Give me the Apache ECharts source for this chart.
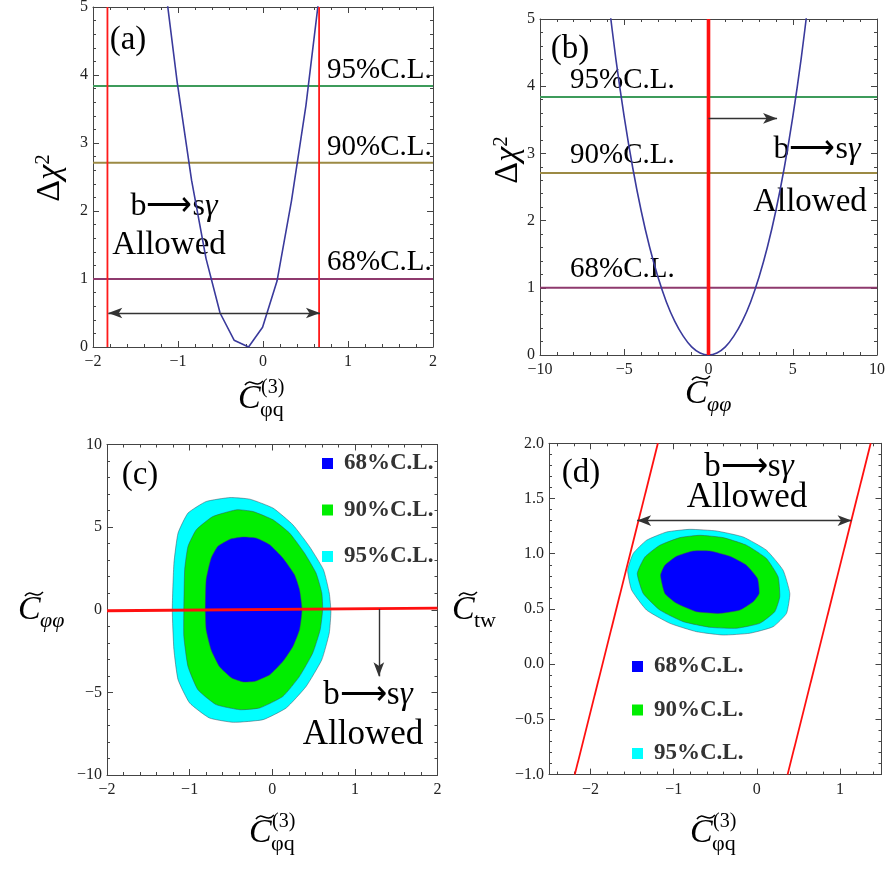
<!DOCTYPE html>
<html><head><meta charset="utf-8">
<script src="https://cdn.jsdelivr.net/npm/echarts@6/dist/echarts.min.js"></script>
<style>html,body{margin:0;padding:0;background:#fff}#c{width:888px;height:869px}</style>
</head><body><div id="c"></div>
<script>
// ---------------- data ----------------
const clLevels = [1.0, 2.71, 3.84];
const clNames = ['68%C.L.', '90%C.L.', '95%C.L.'];
const clColors = ['#8e3a6e', '#9c8a44', '#3d9b5b'];

// panel (a): Δχ² vs C_φq^(3)
const chiA_x = [-1.18, -1.01, -0.84, -0.67, -0.505, -0.34, -0.17, -0.005, 0.165, 0.335, 0.505, 0.675];
const chiA_y = [5.6, 3.9, 2.45, 1.3, 0.5, 0.1, 0.0, 0.29, 0.97, 2.15, 3.55, 5.31];
const boundA = [-1.83, 0.66];
const arrowA = [[-1.82, 0.5], [0.67, 0.5]];

// panel (b): Δχ² vs C_φφ
const chiB_x = [-6, -5.5, -5, -4.5, -4, -3.5, -3, -2.5, -2, -1.5, -1, -0.5, 0, 0.5, 1, 1.5, 2, 2.5, 3, 3.5, 4, 4.5, 5, 5.5, 6];
const chiB_y = [5.42, 4.41, 3.54, 2.79, 2.15, 1.61, 1.16, 0.79, 0.50, 0.28, 0.12, 0.03, 0, 0.03, 0.12, 0.28, 0.50, 0.79, 1.16, 1.61, 2.15, 2.79, 3.54, 4.41, 5.42];
const boundB = 0;
const arrowB = [[0, 3.52], [4.07, 3.52]];

// panel (c): C_φφ vs C_φq^(3) contours
const contC95 = [[-0.51, 6.79], [-0.27, 6.69], [0.01, 6.15], [0.25, 5.14], [0.45, 3.83], [0.62, 2.42], [0.69, 1.01], [0.71, -0.1], [0.69, -1.41], [0.60, -3.02], [0.41, -4.64], [0.17, -5.94], [-0.11, -6.65], [-0.47, -6.81], [-0.76, -6.55], [-1.0, -5.64], [-1.14, -4.23], [-1.19, -2.42], [-1.21, 0], [-1.19, 2.82], [-1.14, 4.64], [-1.02, 5.85], [-0.80, 6.55]];
const contC90 = [[-0.43, 6.05], [-0.23, 5.94], [0.01, 5.44], [0.21, 4.64], [0.39, 3.43], [0.53, 2.22], [0.60, 1.01], [0.61, 0], [0.58, -1.21], [0.49, -2.62], [0.33, -4.03], [0.13, -5.24], [-0.15, -5.94], [-0.39, -6.05], [-0.68, -5.74], [-0.90, -4.84], [-1.02, -3.43], [-1.07, -1.61], [-1.07, 0], [-1.06, 2.42], [-1.02, 3.83], [-0.92, 4.84], [-0.72, 5.64]];
const contC68 = [[-0.354, 4.40], [-0.19, 4.33], [-0.03, 3.93], [0.13, 3.12], [0.27, 2.12], [0.33, 1.21], [0.36, 0], [0.33, -1.21], [0.25, -2.22], [0.13, -3.12], [-0.03, -3.93], [-0.21, -4.33], [-0.35, -4.37], [-0.49, -4.13], [-0.64, -3.43], [-0.74, -2.42], [-0.80, -1.21], [-0.81, 0], [-0.80, 1.81], [-0.74, 3.12], [-0.66, 3.83], [-0.51, 4.27]];
const boundC = [[-2, -0.06], [2, 0.1]];
const arrowC = [[1.29, 0.05], [1.29, -4.03]];

// panel (d): C_tw vs C_φq^(3) contours
const contD95 = [[-1.554, 0.851], [-1.487, 1.002], [-1.326, 1.122], [-1.085, 1.197], [-0.805, 1.221], [-0.485, 1.206], [-0.165, 1.152], [0.116, 1.032], [0.316, 0.851], [0.397, 0.641], [0.357, 0.46], [0.196, 0.339], [-0.084, 0.28], [-0.405, 0.264], [-0.725, 0.294], [-1.046, 0.37], [-1.326, 0.49], [-1.506, 0.671]];
const contD90 = [[-1.438, 0.821], [-1.346, 0.971], [-1.166, 1.077], [-0.925, 1.146], [-0.685, 1.167], [-0.405, 1.146], [-0.124, 1.077], [0.116, 0.957], [0.256, 0.791], [0.276, 0.61], [0.216, 0.475], [0.036, 0.37], [-0.244, 0.325], [-0.565, 0.334], [-0.886, 0.385], [-1.166, 0.49], [-1.367, 0.641]];
const contD68 = [[-1.158, 0.806], [-1.106, 0.896], [-0.965, 0.977], [-0.765, 1.025], [-0.565, 1.025], [-0.325, 0.977], [-0.124, 0.896], [0.008, 0.776], [0.028, 0.641], [-0.044, 0.565], [-0.204, 0.49], [-0.445, 0.46], [-0.725, 0.475], [-0.965, 0.551], [-1.106, 0.641]];
const boundDLeft = [[-2.19, -1], [-1.19, 2]];
const boundDRight = [[0.37, -1], [1.37, 2]];
const arrowD = [[-1.44, 1.30], [1.14, 1.30]];

// tick labels
const ticksA_x = [-2, -1, 0, 1, 2], ticksA_y = [0, 1, 2, 3, 4, 5];
const ticksB_x = [-10, -5, 0, 5, 10], ticksB_y = [0, 1, 2, 3, 4, 5];
const ticksC_x = [-2, -1, 0, 1, 2], ticksC_y = [-10, -5, 0, 5, 10];
const ticksD_x = [-2, -1, 0, 1], ticksD_y = [-1.0, -0.5, 0.0, 0.5, 1.0, 1.5, 2.0];

const contourFill = ['#0000ff', '#00ee00', '#00ffff'];

// ---------------- layout ----------------
const FONT = '"Liberation Serif", "Times New Roman", serif';
const grids = [
  { left: 93, top: 7, width: 340, height: 340 },
  { left: 540, top: 19, width: 337, height: 336 },
  { left: 107, top: 444.5, width: 330.5, height: 330.5 },
  { left: 549, top: 443.3, width: 332.5, height: 331.3 }
];
const axisColor = '#444';

function minorVals(min, max, step, majors) {
  const out = [];
  const start = Math.ceil(min / step - 1e-9) * step;
  for (let v = start; v <= max + 1e-9; v += step) {
    const r = +v.toFixed(6);
    if (!majors.some(m => Math.abs(m - r) < 1e-6)) out.push(r);
  }
  return out;
}
const fmtInt = v => '{t|' + String(+(+v).toFixed(3)).replace('-', '\u2212') + '}';
const fmt1 = v => '{t|' + (+v).toFixed(1).replace('-', '\u2212') + '}';
const tickRich = { t: { fontFamily: FONT, fontSize: 16, color: '#222' } };

const xAxes = [], yAxes = [];
function addAxes(list, gi, isX, min, max, majors, minorStep, fmt) {
  const pos = isX ? ['bottom', 'top'] : ['left', 'right'];
  const minors = minorVals(min, max, minorStep, majors);
  const base = { gridIndex: gi, type: 'value', min, max, splitLine: { show: false } };
  const mainIdx = list.length;
  list.push(Object.assign({}, base, {
    position: pos[0],
    axisLine: { show: true, onZero: false, lineStyle: { color: axisColor, width: 1 } },
    axisTick: { show: true, inside: true, length: 6, customValues: majors, lineStyle: { color: axisColor } },
    axisLabel: { show: true, customValues: majors, formatter: fmt, rich: tickRich, fontFamily: FONT, fontSize: 16, color: '#222', margin: isX ? 7 : 5 }
  }));
  list.push(Object.assign({}, base, {
    position: pos[1],
    axisLine: { show: true, onZero: false, lineStyle: { color: axisColor, width: 1 } },
    axisTick: { show: true, inside: true, length: 6, customValues: majors, lineStyle: { color: axisColor } },
    axisLabel: { show: false }
  }));
  for (let k = 0; k < 2; k++) {
    list.push(Object.assign({}, base, {
      position: pos[k],
      axisLine: { show: false, onZero: false },
      axisTick: { show: true, inside: true, length: 3, customValues: minors, lineStyle: { color: axisColor } },
      axisLabel: { show: false }
    }));
  }
  return mainIdx;
}
const AX = addAxes(xAxes, 0, true, -2, 2, ticksA_x, 0.2, fmtInt);
const AY = addAxes(yAxes, 0, false, 0, 5, ticksA_y, 0.2, fmtInt);
const BX = addAxes(xAxes, 1, true, -10, 10, ticksB_x, 1, fmtInt);
const BY = addAxes(yAxes, 1, false, 0, 5, ticksB_y, 0.2, fmtInt);
const CX = addAxes(xAxes, 2, true, -2, 2, ticksC_x, 0.2, fmtInt);
const CY = addAxes(yAxes, 2, false, -10, 10, ticksC_y, 1, fmtInt);
const DX = addAxes(xAxes, 3, true, -2.5, 1.5, ticksD_x, 0.2, fmtInt);
const DY = addAxes(yAxes, 3, false, -1, 2, ticksD_y, 0.1, fmt1);

// ---------------- series ----------------
const series = [];
const zip = (xs, ys) => xs.map((x, i) => [x, ys[i]]);
function lineS(xi, yi, data, color, width, extra) {
  return Object.assign({
    type: 'line', xAxisIndex: xi, yAxisIndex: yi, data, symbol: 'none', silent: true,
    lineStyle: { color, width }, clip: true, animation: false
  }, extra || {});
}
function arrowMark(pts, both) {
  return {
    silent: true, animation: false,
    symbol: [both ? 'arrow' : 'none', 'arrow'], symbolSize: [8, 14],
    lineStyle: { color: '#333', width: 1.4, type: 'solid' },
    itemStyle: { color: '#000' },
    label: { show: false }, emphasis: { disabled: true },
    data: [[{ coord: pts[0], itemStyle: { color: '#000' } }, { coord: pts[1], itemStyle: { color: '#000' } }]]
  };
}
// (a)
clLevels.forEach((lv, i) => series.push(lineS(AX, AY, [[-2, lv], [2, lv]], clColors[i], 2)));
series.push(lineS(AX, AY, zip(chiA_x, chiA_y), '#3a3a9c', 1.6, { z: 3 }));
series.push(lineS(AX, AY, [[boundA[0], 0], [boundA[0], 5]], '#ff1a1a', 1.8, { z: 4 }));
series.push(lineS(AX, AY, [[boundA[1], 0], [boundA[1], 5]], '#ff1a1a', 1.8, { z: 4, markLine: arrowMark(arrowA, true) }));
// (b)
clLevels.forEach((lv, i) => series.push(lineS(BX, BY, [[-10, lv], [10, lv]], clColors[i], 2)));
series.push(lineS(BX, BY, zip(chiB_x, chiB_y), '#3a3a9c', 1.6, { z: 3, smooth: 0.3 }));
series.push(lineS(BX, BY, [[boundB, 0], [boundB, 5]], '#ff1010', 3.6, { z: 4, markLine: arrowMark(arrowB, false) }));
function contourS(xi, yi, name, pts, fill) {
  return {
    type: 'custom', name, xAxisIndex: xi, yAxisIndex: yi, silent: true, animation: false,
    itemStyle: { color: fill }, z: 2,
    data: [pts[0]],
    renderItem: (params, api) => ({
      type: 'polygon',
      shape: { points: pts.map(p => api.coord(p)), smooth: 0.15 },
      style: { fill, stroke: 'rgba(70,70,90,0.55)', lineWidth: 0.9 }
    })
  };
}
// (c)
series.push(contourS(CX, CY, clNames[2], contC95, contourFill[2]));
series.push(contourS(CX, CY, clNames[1], contC90, contourFill[1]));
series.push(contourS(CX, CY, clNames[0], contC68, contourFill[0]));
series.push(lineS(CX, CY, boundC, '#ff1010', 2.8, { z: 4, markLine: arrowMark(arrowC, false) }));
// (d)
series.push(contourS(DX, DY, clNames[2], contD95, contourFill[2]));
series.push(contourS(DX, DY, clNames[1], contD90, contourFill[1]));
series.push(contourS(DX, DY, clNames[0], contD68, contourFill[0]));
series.push(lineS(DX, DY, boundDLeft, '#ff1010', 1.8, { z: 4 }));
series.push(lineS(DX, DY, boundDRight, '#ff1010', 1.8, { z: 4, markLine: arrowMark(arrowD, true) }));

// ---------------- text annotations ----------------
const graphic = [];
function T(x, y, text, size, align) {
  graphic.push({ type: 'text', x, y, silent: true, style: { text, font: size + 'px ' + FONT, fill: '#000', align: align || 'center', verticalAlign: 'middle' } });
}
function BSG(x, y, size) {
  graphic.push({ type: 'text', x, y, silent: true, style: {
    text: '{r|b\u27F6s}{g|\u03B3}', align: 'center', verticalAlign: 'middle',
    rich: { r: { fontFamily: FONT, fontSize: size, fill: '#000' }, g: { fontFamily: FONT, fontSize: size, fontStyle: 'italic', fill: '#000' } }
  } });
}
function DChi(x, y) {
  graphic.push({ type: 'text', x, y, rotation: Math.PI / 2, silent: true, style: {
    text: '{d|\u0394}{c|\u03C7}{s|2}', align: 'center', verticalAlign: 'middle',
    rich: {
      d: { fontFamily: FONT, fontSize: 34, fill: '#000' },
      c: { fontFamily: FONT, fontSize: 34, fontStyle: 'italic', fill: '#000' },
      s: { fontFamily: FONT, fontSize: 21, fill: '#000', verticalAlign: 'top' }
    }
  } });
}
function CLab(x, y, sub, sup, subItalic) {
  graphic.push({ type: 'text', x, y, silent: true, style: { text: 'C', font: 'italic 34px ' + FONT, fill: '#000', align: 'left', verticalAlign: 'middle' } });
  graphic.push({ type: 'bezierCurve', silent: true, shape: { x1: x + 7, y1: y - 14, cpx1: x + 12, cpy1: y - 22, cpx2: x + 18, cpy2: y - 10, x2: x + 25, y2: y - 18 }, style: { stroke: '#000', lineWidth: 1.5, fill: null } });
  graphic.push({ type: 'text', x: x + 22, y: y + 11, silent: true, style: { text: sub, font: (subItalic ? 'italic ' : '') + '22px ' + FONT, fill: '#000', align: 'left', verticalAlign: 'middle' } });
  if (sup) graphic.push({ type: 'text', x: x + 23, y: y - 11, silent: true, style: { text: sup, font: '20px ' + FONT, fill: '#000', align: 'left', verticalAlign: 'middle' } });
}
// (a)
T(128, 40, '(a)', 33);
T(327, 70, clNames[2], 29, 'left'); T(327, 147, clNames[1], 29, 'left'); T(327, 262, clNames[0], 29, 'left');
BSG(174, 207, 32); T(169, 245, 'Allowed', 33);
DChi(50, 178);
CLab(238, 399, '\u03C6q', '(3)');
// (b)
T(570, 49, '(b)', 33);
T(570, 80, clNames[2], 29, 'left'); T(570, 155, clNames[1], 29, 'left'); T(570, 269, clNames[0], 29, 'left');
BSG(817, 150, 32); T(810, 202, 'Allowed', 33);
DChi(508, 160);
CLab(685, 394, '\u03C6\u03C6', null, true);
// (c)
T(140, 475, '(c)', 33);
BSG(368, 695, 33); T(363, 735, 'Allowed', 35);
CLab(249, 833, '\u03C6q', '(3)');
CLab(18, 610, '\u03C6\u03C6', null, true);
// (d)
T(581, 473, '(d)', 33);
BSG(749, 467, 33); T(747, 498, 'Allowed', 35);
CLab(690, 833, '\u03C6q', '(3)');
CLab(452, 610, 'tw', null);

const legendText = { fontFamily: FONT, fontWeight: 'bold', fontSize: 23, color: '#333', lineHeight: 23, padding: [0, 0, 0, 6] };
const option = {
  animation: false,
  grid: grids.map(g => Object.assign({ show: false, outerBoundsMode: 'none', containLabel: false }, g)),
  xAxis: xAxes, yAxis: yAxes, series, graphic,
  legend: [
    { data: clNames, left: 317, top: 447, orient: 'vertical', icon: 'rect', itemWidth: 11, itemHeight: 11, itemGap: 23.5, selectedMode: false, textStyle: legendText },
    { data: clNames, left: 627, top: 650, orient: 'vertical', icon: 'rect', itemWidth: 11, itemHeight: 11, itemGap: 20.5, selectedMode: false, textStyle: legendText }
  ]
};
const chart = echarts.init(document.getElementById('c'), null, { renderer: 'canvas' });
chart.setOption(option);
</script></body></html>
